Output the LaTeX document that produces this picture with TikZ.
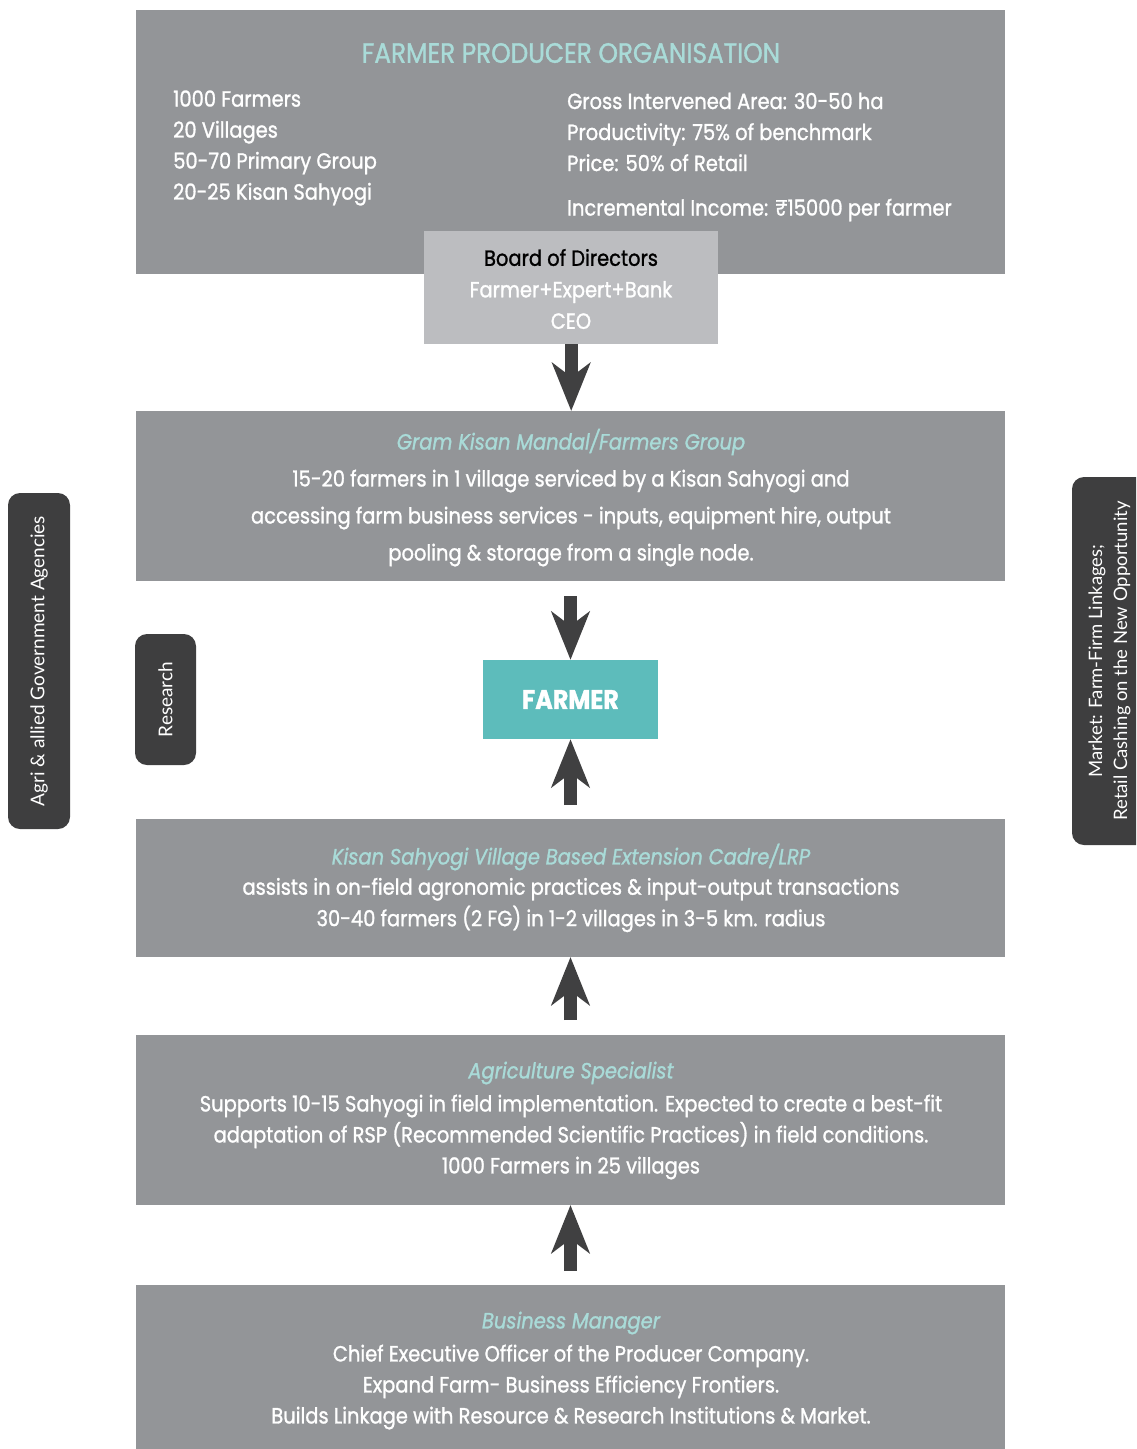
\documentclass[tikz,border=0pt]{standalone}
\usepackage{fontspec}
\setmainfont{Poppins}[FakeStretch=0.885, FakeBold=1.2]
\newfontfamily\pillfont{Lato}
\usetikzlibrary{arrows.meta}
\definecolor{boxgray}{HTML}{939598}
\definecolor{boardgray}{HTML}{BCBDC0}
\definecolor{farmteal}{HTML}{5DBCBB}
\definecolor{pilldark}{HTML}{3E3E3F}
\definecolor{titleteal}{HTML}{A9DBD8}
\definecolor{arrowdark}{HTML}{404041}
\begin{document}
\begin{tikzpicture}[x=1pt,y=-1pt,
  panel/.style={fill=boxgray, draw=none, minimum width=869pt, minimum height=#1, anchor=north west, inner sep=0pt, outer sep=0pt},
  body/.style={text=white, align=center, font=\fontsize{22}{#1}\selectfont, inner sep=0pt},
  subttl/.style={text=titleteal, font=\fontsize{22}{26}\selectfont\itshape, inner sep=0pt},
  pill/.style={fill=pilldark, draw=none, rounded corners=12pt, inner sep=0pt, text=white, font=\pillfont\fontsize{19}{25}\selectfont, align=center},
  bigarrow/.style={draw=arrowdark, line width=13pt, -{Stealth[width=38pt,length=48pt,inset=14pt]}}
]
\useasboundingbox (0,0) rectangle (1136,1449);
\clip (0,0) rectangle (1136,1449);

% top panel
\node[panel=264pt] (fpo) at (136,10) {};
\node[text=titleteal, font=\fontsize{28}{30}\selectfont, inner sep=0pt] (fpotitle) at (571,53) {FARMER PRODUCER ORGANISATION};
\node[body=31pt, align=left, anchor=west] (fpoleft) at (173,148) {1000 Farmers\\20 Villages\\50-70 Primary Group\\20-25 Kisan Sahyogi};
\node[body=31pt, align=left, anchor=west] (fporight) at (567,132) {Gross Intervened Area: 30-50 ha\\Productivity: 75\% of benchmark\\Price: 50\% of Retail};
\node[body=31pt, align=left, anchor=west] (fpoinc) at (567,210) {Incremental Income: ₹15000 per farmer};

% board
\node[fill=boardgray, minimum width=294pt, minimum height=113pt, anchor=north west, inner sep=0pt] (board) at (424,231) {};
\node[inner sep=0pt, align=center, font=\fontsize{22}{31.5}\selectfont] (boardtext) at (571,289) {\textcolor{black}{Board of Directors}\\\textcolor{white}{Farmer+Expert+Bank}\\\textcolor{white}{CEO}};

% gram kisan mandal
\node[panel=170pt] (gkm) at (136,411) {};
\node[subttl] (gkmtitle) at (571,442) {Gram Kisan Mandal/Farmers Group};
\node[body=37pt] (gkmbody) at (571,518) {15-20 farmers in 1 village serviced by a Kisan Sahyogi and\\accessing farm business services - inputs, equipment hire, output\\pooling \& storage from a single node.};

% farmer
\node[fill=farmteal, minimum width=175pt, minimum height=79pt, inner sep=0pt, text=white, font=\fontsize{27}{30}\selectfont\bfseries] (farmer) at (570.5,699.5) {FARMER};

% kisan sahyogi
\node[panel=138pt] (ks) at (136,819) {};
\node[subttl] (kstitle) at (571,857) {Kisan Sahyogi Village Based Extension Cadre/LRP};
\node[body=31.5pt] (ksbody) at (571,905) {assists in on-field agronomic practices \& input-output transactions\\30-40 farmers (2 FG) in 1-2 villages in 3-5 km. radius};

% agriculture specialist
\node[panel=170pt] (as) at (136,1035) {};
\node[subttl] (astitle) at (571,1073) {Agriculture Specialist};
\node[body=31pt] (asbody) at (571,1137) {Supports 10-15 Sahyogi in field implementation. Expected to create a best-fit\\adaptation of RSP (Recommended Scientific Practices) in field conditions.\\1000 Farmers in 25 villages};

% business manager
\node[panel=170pt] (bm) at (136,1285) {};
\node[subttl] (bmtitle) at (571,1323) {Business Manager};
\node[body=31pt] (bmbody) at (571,1387) {Chief Executive Officer of the Producer Company.\\Expand Farm- Business Efficiency Frontiers.\\Builds Linkage with Resource \& Research Institutions \& Market.};

% side pills
\node[pill, rotate=90, minimum width=336pt, minimum height=62pt] (agri) at (39,661) {Agri \& allied Government Agencies};
\node[pill, rotate=90, minimum width=131pt, minimum height=61pt] (research) at (165.5,699.5) {Research};
\node[pill, rotate=90, minimum width=368pt, minimum height=84pt] (market) at (1114,661) {};
\node[rotate=90, inner sep=0pt, text=white, font=\pillfont\fontsize{18.5}{25}\selectfont, align=center] (markettext) at (1109.5,661) {Market: Farm-Firm Linkages;\\Retail Cashing on the New Opportunity};

% arrows
\draw[bigarrow] (board.south) -- (gkm.north -| board.south);
\draw[bigarrow, shorten <=15pt] (gkm.south -| farmer.north) -- (farmer.north);
\draw[bigarrow, shorten <=14pt] (ks.north -| farmer.south) -- (farmer.south);
\draw[bigarrow, shorten <=15pt] (as.north -| farmer.south) -- (ks.south -| farmer.south);
\draw[bigarrow, shorten <=14pt] (bm.north -| farmer.south) -- (as.south -| farmer.south);
\end{tikzpicture}
\end{document}
